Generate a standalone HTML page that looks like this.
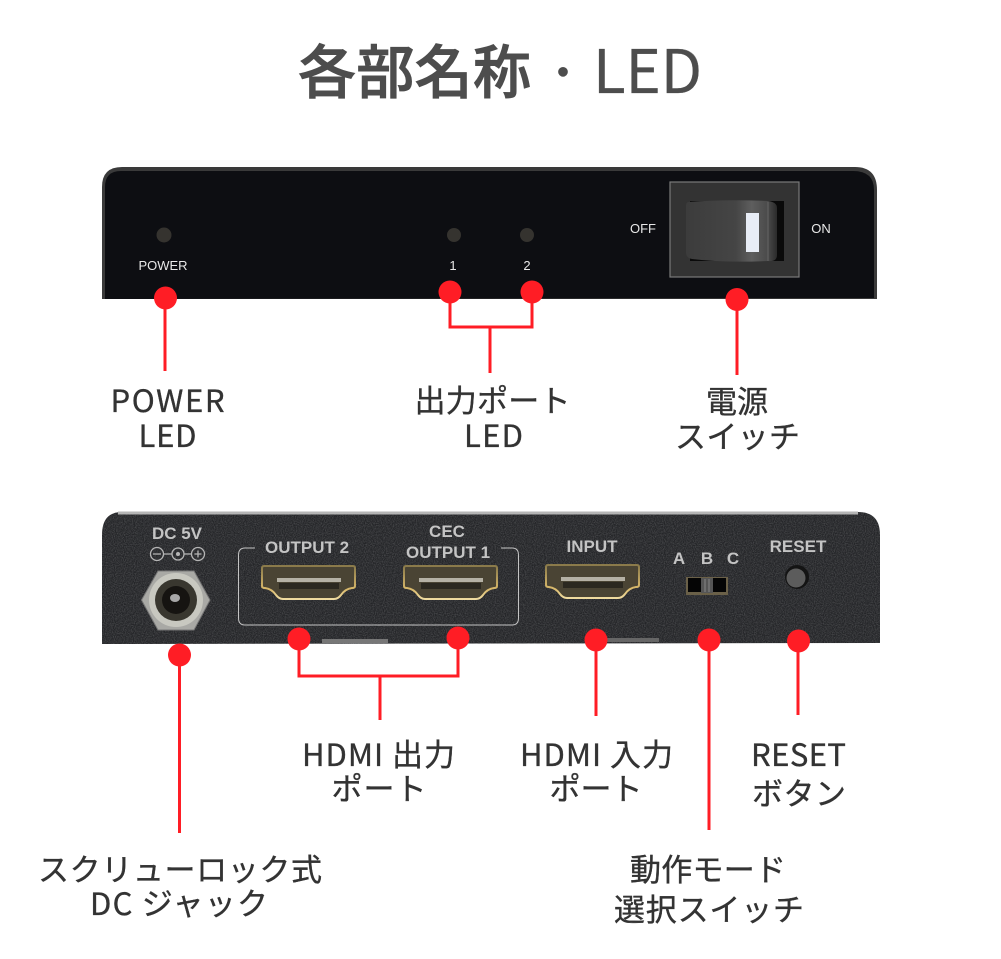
<!DOCTYPE html>
<html lang="ja"><head><meta charset="utf-8"><title>各部名称・LED</title>
<style>
html,body{margin:0;padding:0;background:#fff;width:1001px;height:959px;overflow:hidden}
svg{display:block}
.ti{font-family:"Noto Sans CJK JP","Liberation Sans",sans-serif;fill:#4d4d4d;stroke:#4d4d4d}
.j{font-family:"Noto Sans CJK JP","Liberation Sans",sans-serif;font-size:31px;fill:#333;stroke:#333;stroke-width:.35px;text-anchor:middle}
.w{font-family:"Liberation Sans",sans-serif;fill:#e8e8e8;text-anchor:middle;font-size:13px}
.b{font-family:"Liberation Sans",sans-serif;fill:#c4c4c4;text-anchor:middle;font-size:17px;font-weight:700}
.r{fill:none;stroke:#ff1d25;stroke-width:3}
</style></head><body>
<svg width="1001" height="959" viewBox="0 0 1001 959" xmlns="http://www.w3.org/2000/svg">
<defs>
<linearGradient id="gold" x1="0" y1="0" x2="0" y2="1"><stop offset="0" stop-color="#8a7a4a"/><stop offset=".7" stop-color="#d8b86a"/><stop offset="1" stop-color="#f0dca0"/></linearGradient>
<linearGradient id="rock" x1="0" y1="0" x2="1" y2="0"><stop offset="0" stop-color="#3c3c3c"/><stop offset=".55" stop-color="#454545"/><stop offset=".72" stop-color="#5e5e5e"/><stop offset=".9" stop-color="#4a4a4a"/><stop offset="1" stop-color="#2a2a2a"/></linearGradient>
<filter id="grain" x="0" y="0" width="100%" height="100%"><feTurbulence type="fractalNoise" baseFrequency=".9" numOctaves="2" seed="3"/><feColorMatrix values="0 0 0 0 1 0 0 0 0 1 0 0 0 0 1 .35 0 0 0 -.12"/><feComposite in2="SourceGraphic" operator="in"/></filter>
<symbol id="hdmi" viewBox="0 0 95 35" overflow="visible">
<path d="M3 1H92Q94 1 94 3V21Q94 23 91 23Q84 24 80 30Q77 34 73 34H22Q18 34 15 30Q11 24 4 23Q1 23 1 21V3Q1 1 3 1Z" fill="#4a4434" stroke="url(#gold)" stroke-width="2"/>
<rect x="16" y="13" width="64" height="4" fill="#b5b1a5"/>
<rect x="18" y="18" width="60" height="6" fill="#2b2820"/>
</symbol>
</defs>

<text class="ti" x="298" y="93" font-size="58" font-weight="500" stroke-width=".9" textLength="233">各部名称</text>
<text class="ti" x="563" y="85" text-anchor="middle" font-size="34" font-weight="700" stroke-width="1">・</text>
<text class="ti" x="593" y="93" font-size="60" font-weight="400" stroke-width=".3" textLength="109">LED</text>

<!-- top device -->
<path d="M102 299V187Q102 167 122 167H855Q877 167 877 190V299Z" fill="#3a3a3a"/>
<path d="M105 299V187Q105 171 121 171H853Q874 171 874 190V298Z" fill="#0d0e12"/>
<circle cx="164" cy="235" r="7.500" fill="#35332f"/>
<circle cx="454" cy="235" r="7" fill="#35332f"/>
<circle cx="527" cy="235" r="7" fill="#35332f"/>
<text class="w" x="163" y="270">POWER</text>
<text class="w" x="453" y="270">1</text>
<text class="w" x="527" y="270">2</text>
<text class="w" x="643" y="233">OFF</text>
<text class="w" x="821" y="233">ON</text>
<rect x="670" y="182" width="129" height="95" fill="#333" stroke="#7a7a7a" stroke-width="1.200"/>
<rect x="690" y="201" width="94" height="60" fill="#0a0a0a"/>
<path d="M688 202Q725 199 768 201Q777 202 777 208V255Q777 262 768 261Q725 263 692 259Q686 258 686 252V206Q686 203 688 202Z" fill="url(#rock)"/>
<path d="M768 202V261" stroke="#666" stroke-width="1"/>
<rect x="746" y="213" width="13" height="39" fill="#e8edf6"/>

<!-- bottom device -->
<path d="M102 644V535Q102 512 122 512H858Q880 512 880 535V643Z" fill="#242528"/>
<path d="M102 644V535Q102 512 122 512H858Q880 512 880 535V643Z" fill="#242528" filter="url(#grain)"/>
<path d="M118 513H858" stroke="#b5b5b5" stroke-width="3"/>
<rect x="322" y="639" width="66" height="4" fill="#777"/>
<rect x="600" y="638" width="59" height="4" fill="#666"/>

<text class="b" x="177" y="539">DC 5V</text>
<g fill="none" stroke="#b5b5b5" stroke-width="1.300">
<circle cx="157" cy="554" r="6.500"/><circle cx="178" cy="554" r="6"/><circle cx="198" cy="554" r="6.500"/>
<path d="M153 554h8M163.500 554h8.500M184 554h7.500M198 550.500v7M194.500 554h7"/>
</g>
<circle cx="178" cy="554" r="2" fill="#b5b5b5"/>

<path d="M141.500 600L158 571H194L210 600L194 630H158Z" fill="#a9a9a5" stroke="#777"/>
<circle cx="176" cy="600" r="27" fill="#c8c8c0"/>
<circle cx="176" cy="600" r="21" fill="#39372f"/>
<circle cx="176" cy="600" r="14" fill="#161411"/>
<ellipse cx="175" cy="598" rx="5" ry="4" fill="#a8a8a8"/>

<path d="M255 548H245Q238.500 548 238.500 555V618Q238.500 625 245 625H512Q518.500 625 518.500 618V555Q518.500 548 512 548H501" fill="none" stroke="#c4c4c4" stroke-width="1"/>
<text class="b" x="307" y="553">OUTPUT 2</text>
<text class="b" x="447" y="537">CEC</text>
<text class="b" x="448" y="558">OUTPUT 1</text>
<text class="b" x="592" y="552">INPUT</text>
<text class="b" x="679" y="564">A</text>
<text class="b" x="707" y="564">B</text>
<text class="b" x="733" y="564">C</text>
<text class="b" x="798" y="552">RESET</text>
<use href="#hdmi" x="261" y="565" width="95" height="35"/>
<use href="#hdmi" x="403" y="565" width="95" height="35"/>
<use href="#hdmi" x="545" y="564" width="95" height="35"/>
<rect x="686" y="577" width="42" height="18" fill="#6a6048"/>
<rect x="688" y="578" width="38" height="14" fill="#050505"/>
<rect x="701" y="578" width="12" height="15" fill="#555"/>
<path d="M705 579v13M709 579v13" stroke="#888" stroke-width="1"/>
<circle cx="797" cy="577" r="12" fill="#141414"/>
<circle cx="796" cy="578" r="9.500" fill="#5c5c5c"/>

<!-- connectors -->
<path class="r" d="M165 298V371M737 299V375"/>
<path class="r" d="M450 292V327H532V292M490 327V373"/>
<path class="r" d="M179.500 655V833"/>
<path class="r" d="M299 639V676H458V638M380 676V720"/>
<path class="r" d="M596 640V716M709 640V830M798 641V715"/>
<g fill="#ff1d25">
<circle cx="165.500" cy="298" r="11.500"/><circle cx="450" cy="292" r="11.500"/><circle cx="532" cy="292" r="11.500"/><circle cx="737" cy="299.500" r="11.500"/>
<circle cx="179.500" cy="655" r="11.500"/><circle cx="299" cy="639" r="11.500"/><circle cx="458" cy="638" r="11.500"/><circle cx="596" cy="640" r="11.500"/><circle cx="709" cy="640" r="11.500"/><circle cx="798.500" cy="641" r="11.500"/>
</g>

<!-- labels -->
<text class="j" x="167.500" y="412" textLength="114">POWER</text>
<text class="j" x="167.500" y="447" textLength="58">LED</text>
<text class="j" x="492.500" y="412" textLength="156">出力ポート</text>
<text class="j" x="493.500" y="447" textLength="59">LED</text>
<text class="j" x="737" y="413" textLength="62">電源</text>
<text class="j" x="737.500" y="448" textLength="125">スイッチ</text>
<text class="j" x="378.500" y="766" textLength="153">HDMI 出力</text>
<text class="j" x="379" y="800" textLength="95">ポート</text>
<text class="j" x="596.500" y="766" textLength="153">HDMI 入力</text>
<text class="j" x="596" y="800" textLength="93">ポート</text>
<text class="j" x="798.500" y="766" textLength="95">RESET</text>
<text class="j" x="799" y="805" textLength="94">ボタン</text>
<text class="j" x="180" y="881" textLength="284">スクリューロック式</text>
<text class="j" x="179" y="915" textLength="178">DC ジャック</text>
<text class="j" x="708" y="881" textLength="156">動作モード</text>
<text class="j" x="709" y="921" textLength="190">選択スイッチ</text>
</svg>
</body></html>
